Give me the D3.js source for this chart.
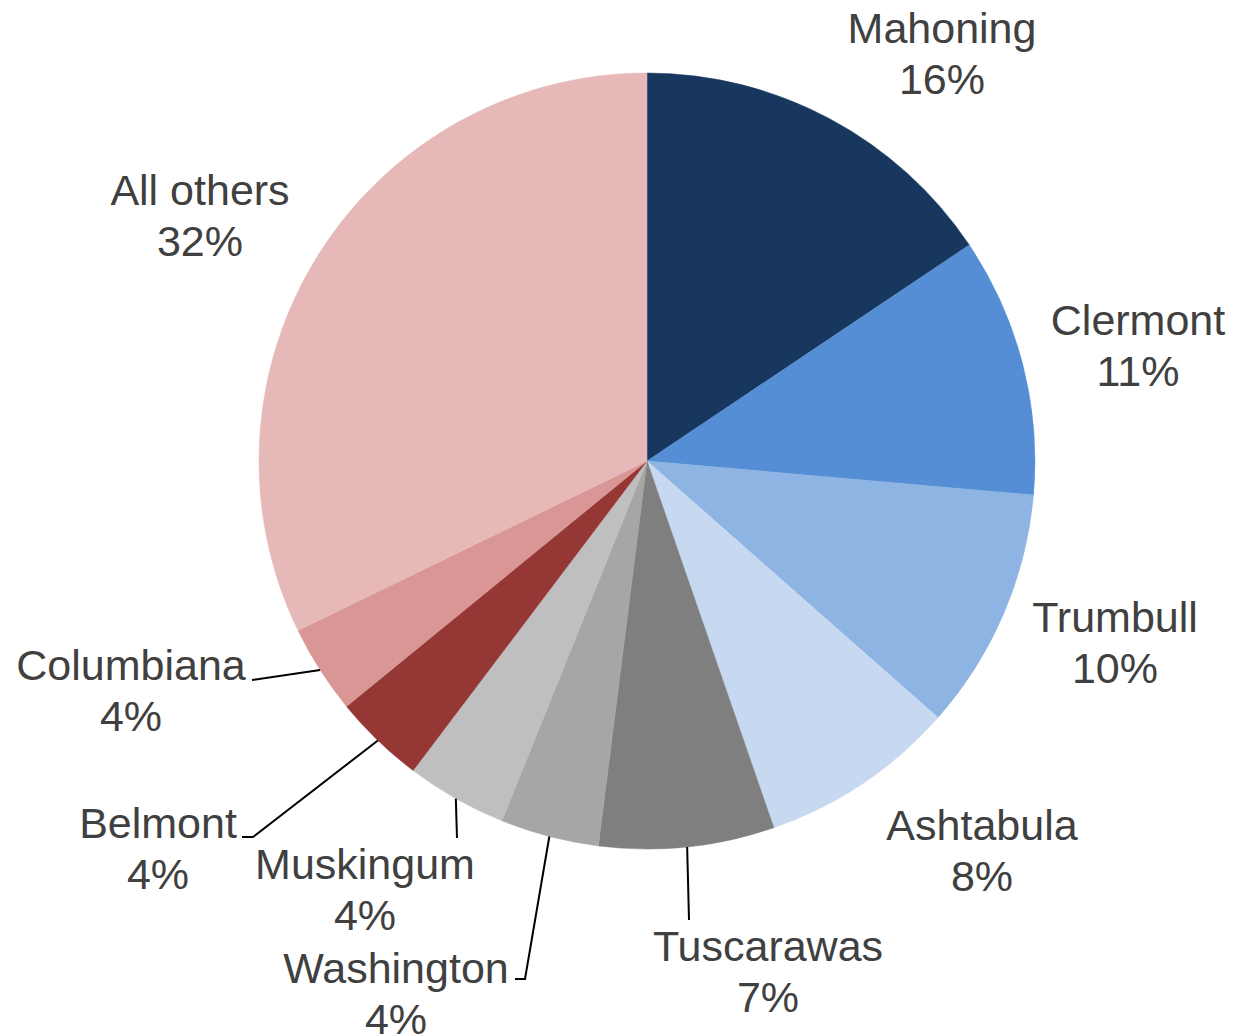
<!DOCTYPE html>
<html>
<head>
<meta charset="utf-8">
<script src="https://cdn.jsdelivr.net/npm/d3@7/dist/d3.min.js"></script>
<style>
  html, body { margin: 0; padding: 0; background: #ffffff; }
  svg { display: block; }
  text { font-family: "Liberation Sans", Arial, sans-serif; }
</style>
</head>
<body>
<svg id="chart" width="1236" height="1035"></svg>
<script>
// ---- data ----
const categories = ["Mahoning", "Clermont", "Trumbull", "Ashtabula", "Tuscarawas",
                    "Washington", "Muskingum", "Belmont", "Columbiana", "All others"];
const shares = [15.6, 10.8, 10.1, 8.2, 7.3, 4.1, 4.2, 3.8, 3.7, 32.2];
const percentLabels = ["16%", "11%", "10%", "8%", "7%", "4%", "4%", "4%", "4%", "32%"];

// ---- styles / layout ----
const colors = ["#17375E", "#558ED5", "#8EB4E3", "#C6D9F1", "#7F7F7F",
                "#A6A6A6", "#BFBFBF", "#953735", "#D99694", "#E6B9B8"];
const cx = 647, cy = 461, radius = 388;
const fontSize = 43, lineGap = 51;
// label anchor (center x, first-line baseline y) and leader-line path end points
const labelLayout = [
  { x: 942,  y: 43,  leader: null },
  { x: 1138, y: 335, leader: null },
  { x: 1115, y: 632, leader: null },
  { x: 982,  y: 840, leader: null },
  { x: 768,  y: 961, leader: [[689, 920]] },
  { x: 396,  y: 983, leader: [[525, 979], [515, 979]] },
  { x: 365,  y: 879, leader: [[457, 838]] },
  { x: 158,  y: 838, leader: [[253, 837], [242, 837]] },
  { x: 131,  y: 680, leader: [[252, 680]] },
  { x: 200,  y: 205, leader: null }
];

const data = categories.map((c, i) => ({ name: c, value: shares[i], pct: percentLabels[i], i }));

const svg = d3.select("#chart");
const g = svg.append("g").attr("transform", `translate(${cx},${cy})`);

const pie = d3.pie().value(d => d.value).sort(null);
const arc = d3.arc().innerRadius(0).outerRadius(radius);
const arcs = pie(data);

g.selectAll("path.slice")
  .data(arcs)
  .join("path")
  .attr("class", "slice")
  .attr("d", arc)
  .attr("fill", d => colors[d.data.i])
  .attr("stroke", d => colors[d.data.i])
  .attr("stroke-width", 0.5);

// leader lines, starting at the outer edge midpoint of each slice
const edgeArc = d3.arc().innerRadius(radius).outerRadius(radius);
arcs.forEach(d => {
  const lay = labelLayout[d.data.i];
  if (!lay.leader) return;
  const [sx, sy] = edgeArc.centroid(d);
  const pts = [[sx + cx, sy + cy]].concat(lay.leader);
  svg.append("path")
    .attr("d", d3.line()(pts))
    .attr("fill", "none")
    .attr("stroke", "#000000")
    .attr("stroke-width", 2);
});

// labels
const labels = svg.selectAll("text.lbl")
  .data(data)
  .join("text")
  .attr("class", "lbl")
  .attr("text-anchor", "middle")
  .attr("font-size", fontSize)
  .attr("fill", "#404040");

labels.append("tspan")
  .attr("x", d => labelLayout[d.i].x)
  .attr("y", d => labelLayout[d.i].y)
  .text(d => d.name);
labels.append("tspan")
  .attr("x", d => labelLayout[d.i].x)
  .attr("y", d => labelLayout[d.i].y + lineGap)
  .text(d => d.pct);
</script>
</body>
</html>
